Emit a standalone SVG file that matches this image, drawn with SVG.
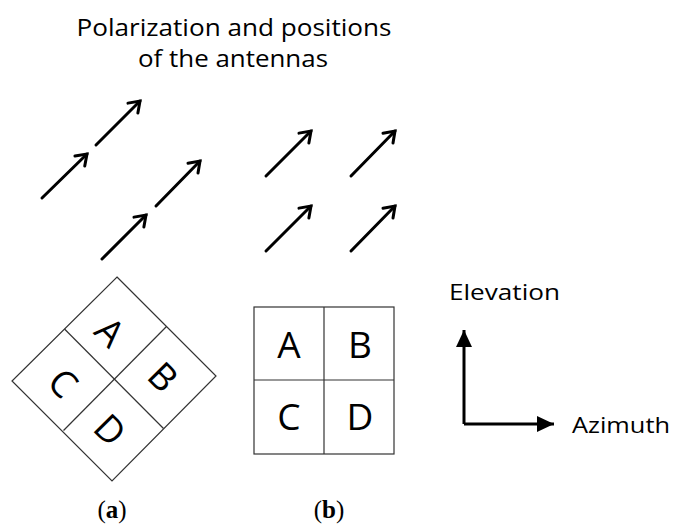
<svg xmlns="http://www.w3.org/2000/svg" width="675" height="526" viewBox="0 0 675 526">
<style>
.t{font-family:"Open Sans","Liberation Sans",sans-serif;fill:#000}
.big{font-size:37px;text-anchor:middle}
.pol{stroke:#000;stroke-width:3;stroke-linecap:round;fill:none;marker-end:url(#vh)}
.grid{stroke:#333;stroke-width:1.2;fill:none}
.ax{stroke:#000;stroke-width:3;fill:none}
.cap{font-family:"Liberation Serif",serif;font-size:25px;text-anchor:middle}
</style>
<defs>
<marker id="vh" markerUnits="userSpaceOnUse" markerWidth="20" markerHeight="20" viewBox="-14 -10 20 20" refX="0" refY="0" orient="auto">
<path d="M-10,-7 L0,0 L-10,7" fill="none" stroke="#000" stroke-width="3" stroke-linejoin="miter" stroke-linecap="round"/>
</marker>
<marker id="fh" markerUnits="userSpaceOnUse" markerWidth="24" markerHeight="24" viewBox="-18 -12 24 24" refX="0" refY="0" orient="auto">
<path d="M-17,-8 L0,0 L-17,8 Z" fill="#000"/>
</marker>
</defs>
<g id="title">
<text class="t" x="234" y="36" font-size="23" text-anchor="middle" textLength="315" lengthAdjust="spacingAndGlyphs">Polarization and positions</text>
<text class="t" x="233" y="67" font-size="23" text-anchor="middle" textLength="190" lengthAdjust="spacingAndGlyphs">of the antennas</text>
</g>
<g id="connectors">
<line class="pol" x1="42" y1="198" x2="87" y2="154"/>
<line class="pol" x1="96" y1="145" x2="140" y2="101"/>
<line class="pol" x1="102" y1="259" x2="146" y2="215"/>
<line class="pol" x1="156" y1="206" x2="200" y2="161"/>
<line class="pol" x1="266" y1="176" x2="311" y2="131"/>
<line class="pol" x1="351" y1="176" x2="395" y2="131"/>
<line class="pol" x1="266" y1="251" x2="311" y2="206"/>
<line class="pol" x1="351" y1="251" x2="395" y2="206"/>
<path class="ax" d="M464,424 L464,330" marker-end="url(#fh)"/>
<path class="ax" d="M464,424 L554,424" marker-end="url(#fh)"/>
</g>
<g id="array-a">
<polygon class="grid" points="117,277 216,376 112,481 12,381"/>
<line class="grid" x1="64.5" y1="329" x2="163.5" y2="428.5"/>
<line class="grid" x1="166.5" y1="326.5" x2="63.5" y2="430.5"/>
<text class="t big" transform="translate(110,332) rotate(45)" y="13">A</text>
<text class="t big" transform="translate(163,377) rotate(45)" y="13">B</text>
<text class="t big" transform="translate(63,383) rotate(45)" y="13">C</text>
<text class="t big" transform="translate(110,430) rotate(45)" y="13">D</text>
</g>
<g id="array-b">
<rect class="grid" x="254" y="307" width="140" height="147"/>
<line class="grid" x1="324" y1="307" x2="324" y2="454"/>
<line class="grid" x1="254" y1="380" x2="394" y2="380"/>
<text class="t big" x="289" y="358">A</text>
<text class="t big" x="360" y="358">B</text>
<text class="t big" x="289" y="430">C</text>
<text class="t big" x="360" y="430">D</text>
</g>
<g id="axes-labels">
<text class="t" x="449" y="300" font-size="22" textLength="111" lengthAdjust="spacingAndGlyphs">Elevation</text>
<text class="t" x="572" y="433" font-size="22" textLength="98" lengthAdjust="spacingAndGlyphs">Azimuth</text>
</g>
<g id="captions">
<text class="cap" x="112" y="518">(<tspan font-weight="bold">a</tspan>)</text>
<text class="cap" x="329" y="518">(<tspan font-weight="bold">b</tspan>)</text>
</g>
</svg>
